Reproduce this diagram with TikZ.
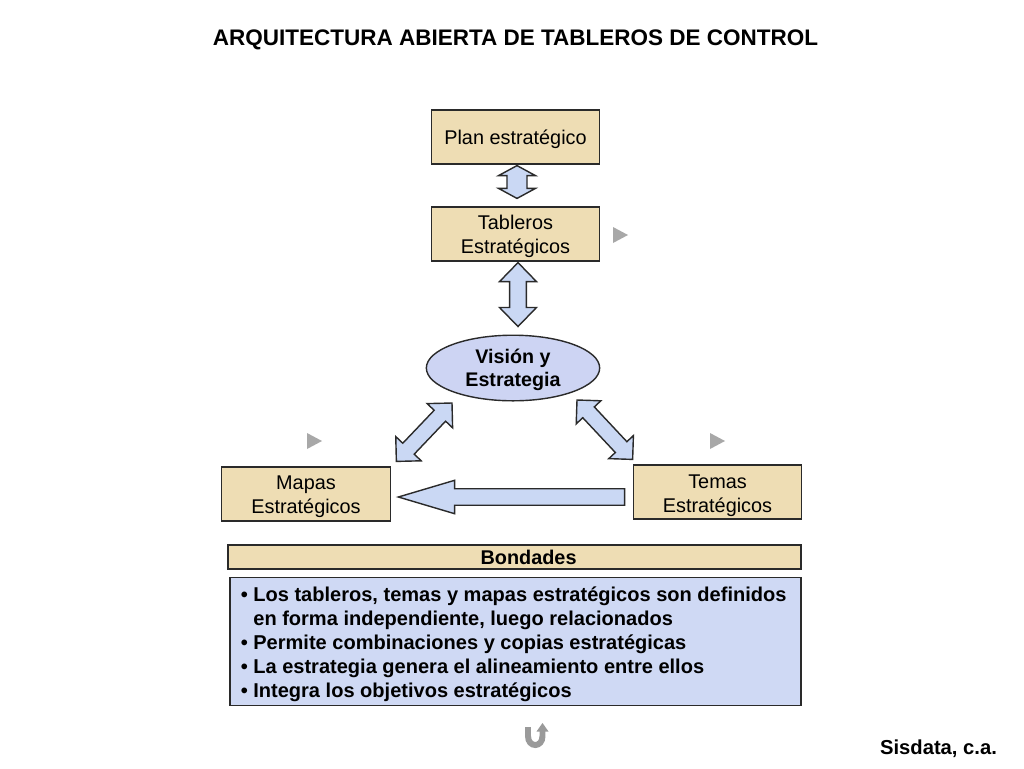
\documentclass[tikz,border=0pt]{standalone}
\usepackage{fontspec}
\setmainfont{Liberation Sans}
\usetikzlibrary{calc,shapes.geometric}
\newcommand\pxu{0.5669pt}
\newsavebox\lblbox
\newcommand\boxlbl[2][1.6pt]{\sbox\lblbox{\begin{tabular}{@{}c@{}}#2\end{tabular}}\raisebox{-#1}[\ht\lblbox][\dp\lblbox]{\usebox\lblbox}}
\newcommand\fatdbl[5]{%
 \filldraw[fatarrow] (#1) -- ($(#1)!#5!(#2)!#4!90:(#2)$) -- ($(#1)!#5!(#2)!#3!90:(#2)$)
  -- ($(#2)!#5!(#1)!#3!-90:(#1)$) -- ($(#2)!#5!(#1)!#4!-90:(#1)$) -- (#2)
  -- ($(#2)!#5!(#1)!#4!90:(#1)$) -- ($(#2)!#5!(#1)!#3!90:(#1)$)
  -- ($(#1)!#5!(#2)!#3!-90:(#2)$) -- ($(#1)!#5!(#2)!#4!-90:(#2)$) -- cycle;}
\newcommand\fatsgl[5]{%
 \filldraw[fatarrow] (#1) -- ($(#1)!#5!(#2)!#4!90:(#2)$) -- ($(#1)!#5!(#2)!#3!90:(#2)$)
  -- ($(#2)!#3!-90:(#1)$) -- ($(#2)!#3!90:(#1)$)
  -- ($(#1)!#5!(#2)!#3!-90:(#2)$) -- ($(#1)!#5!(#2)!#4!-90:(#2)$) -- cycle;}
\definecolor{tan}{HTML}{EEDDB4}
\definecolor{bluebox}{HTML}{CFD9F4}
\definecolor{ellfill}{HTML}{CDD4F3}
\definecolor{arrfill}{HTML}{CAD8F4}
\definecolor{edge}{HTML}{2A2A2A}
\definecolor{marker}{HTML}{A8A8A8}
\definecolor{uturn}{HTML}{9A9A9A}
\tikzset{
  tanbox/.style={draw=edge, line width=0.8pt, fill=tan, inner sep=0pt,
    font=\fontsize{11.3}{13.6}\selectfont},
  fatarrow/.style={draw=edge, line width=0.8pt, fill=arrfill, line join=miter},
  marktri/.style={fill=marker},
}
\begin{document}
\begin{tikzpicture}[x=0.02cm,y=-0.02cm]
\useasboundingbox (0,0) rectangle (1024,768);
\fill[white] (0,0) rectangle (1024,768);

\node[font=\bfseries\fontsize{12.8}{15}\selectfont] (title) at (515.5,40) {ARQUITECTURA ABIERTA DE TABLEROS DE CONTROL};

\node[tanbox, minimum width=169*\pxu, minimum height=54*\pxu] (plan) at (515.5,137) {\boxlbl{Plan estratégico}};
\node[tanbox, minimum width=169*\pxu, minimum height=54*\pxu] (tab) at (515.5,234) {\boxlbl{Tableros\\Estratégicos}};
\node[ellipse, draw=edge, line width=0.8pt, fill=ellfill, inner sep=0pt,
  minimum width=174*\pxu, minimum height=64*\pxu,
  font=\bfseries\fontsize{11.2}{13.2}\selectfont] (vis) at (513,368) {\boxlbl[1.2pt]{Visión y\\Estrategia}};
\node[tanbox, minimum width=170*\pxu, minimum height=54*\pxu] (mapas) at (306,494) {\boxlbl[1.3pt]{Mapas\\Estratégicos}};
\node[tanbox, minimum width=169*\pxu, minimum height=54*\pxu] (temas) at (717.5,492) {\boxlbl[2pt]{Temas\\Estratégicos}};

\node[tanbox, minimum width=575*\pxu, minimum height=24*\pxu, font=\bfseries\fontsize{11.3}{13.6}\selectfont] (bond) at (514.5,557) {\hspace*{16pt}Bondades};
\node[draw=edge, line width=0.8pt, fill=bluebox, inner sep=0pt,
  minimum width=573*\pxu, minimum height=129*\pxu] (list) at (515.5,641.5) {};
\node[anchor=west, inner sep=0pt, align=left,
  font=\bfseries\fontsize{11.4}{13.6}\selectfont] (listtxt) at ($(list.west)+(11,3)$)
  {• Los tableros, temas y mapas estratégicos son definidos\\
   \hphantom{• }en forma independiente, luego relacionados\\
   • Permite combinaciones y copias estratégicas\\
   • La estrategia genera el alineamiento entre ellos\\
   • Integra los objetivos estratégicos};

% fat arrows
\coordinate (a1) at ($(plan.south)+(1.5,1)$);
\coordinate (b1) at ($(tab.north)+(1.5,-8)$);
\coordinate (a2) at ($(tab.south)+(2.5,1)$);
\coordinate (b2) at ($(vis.north)+(5,-8)$);
\coordinate (a3) at ($(vis.center)+(-61,35)$);
\coordinate (b3) at ($(mapas.north east)+(5,-5)$);
\coordinate (a4) at ($(vis.center)+(64,32)$);
\coordinate (b4) at ($(temas.north west)+(0,-5)$);
\coordinate (a5) at ($(mapas.east)+(7,3)$);
\coordinate (b5) at ($(temas.west)+(-8,5)$);
\fatdbl{a1}{b1}{5.7pt}{10.5pt}{5.7pt}
\fatdbl{a2}{b2}{4.8pt}{10.5pt}{10.8pt}
\fatdbl{a3}{b3}{4.5pt}{10pt}{10pt}
\fatdbl{a4}{b4}{4.5pt}{9.6pt}{9.6pt}
\fatsgl{a5}{b5}{4.7pt}{9.5pt}{32pt}

% gray markers
\fill[marktri] (613,227) -- (628,235) -- (613,243) -- cycle;
\fill[marktri] (307,433) -- (322,441) -- (307,449) -- cycle;
\fill[marktri] (710,433) -- (725,441) -- (710,449) -- cycle;

% u-turn icon
\draw[uturn, line width=3.4pt] (528,727) -- (528,736) .. controls (528,748) and (542.5,748) .. (542.5,736) -- (542.5,730);
\fill[uturn] (536.5,731.5) -- (542.5,723) -- (548.5,731.5) -- cycle;

\node[font=\bfseries\fontsize{11.5}{14}\selectfont, anchor=base] (sis) at (938.5,754) {Sisdata, c.a.};
\end{tikzpicture}
\end{document}
